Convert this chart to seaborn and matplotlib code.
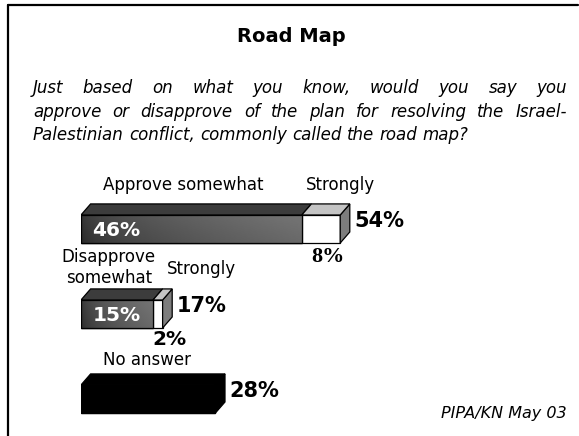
import numpy as np
import pandas as pd
import matplotlib
matplotlib.use("Agg")
import matplotlib.pyplot as plt
from matplotlib.patches import Polygon, Rectangle
from matplotlib.lines import Line2D
import seaborn as sns

# ---- data -------------------------------------------------------------
questions = ["Approve", "Disapprove", "No answer"]
base_values = [46, 15, 28]          # "somewhat" share (whole bar for No answer)
strong_values = [8, 2, 0]           # "strongly" share stacked on top
totals = [b + s for b, s in zip(base_values, strong_values)]
base_labels = ["Approve somewhat", "Disapprove\nsomewhat", "No answer"]
strong_labels = ["Strongly", "Strongly", ""]

title = "Road Map"
question_lines = [
    "Just based on what you know, would you say you",
    "approve or disapprove of the plan for resolving the Israel-",
    "Palestinian conflict, commonly called the road map?",
]
source = "PIPA/KN May 03"

# ---- style --------------------------------------------------------------
W, H = 579, 436
sns.set_theme(style="white")
plt.rcParams["font.family"] = ["DejaVu Sans"]
plt.rcParams["text.color"] = "black"

fig = plt.figure(figsize=(W / 100, H / 100), dpi=100)
ax = fig.add_axes([81 / W, 3 / H, 480 / W, 323 / H])

BAR_H = 0.33       # bar thickness (category units)
DX, DY = 2.0, 0.13  # 3-D depth offsets (x in %, y in category units)

df = pd.DataFrame({"question": questions, "total": totals, "base": base_values})

# full bars: white "strongly" part shows to the right of the base
sns.barplot(data=df, x="total", y="question", hue="question", order=questions,
            palette=["white", "white", "black"], orient="h", width=BAR_H,
            edgecolor="black", linewidth=0.9, legend=False, ax=ax)
n_total = len(ax.patches)
# base ("somewhat") bars drawn over them
sns.barplot(data=df, x="base", y="question", hue="question", order=questions,
            palette=["#555555", "#555555", "black"], orient="h", width=BAR_H,
            edgecolor="black", linewidth=0.9, legend=False, ax=ax)

ax.set_xlim(0, 100)
ax.set_ylim(2.4, -1.4)
ax.axis("off")

base_patches = sorted(ax.patches[n_total:],
                      key=lambda p: p.get_y() + p.get_height() / 2)

# shaded gradient on the dark "somewhat" faces
gx = np.linspace(0, 1, 200)
gy = np.linspace(0, 1, 40)
GX, GY = np.meshgrid(gx, gy)
grad = 0.20 + 0.26 * np.sqrt(GX) - 0.05 * GY
for i, p in enumerate(base_patches):
    if strong_values[i] == 0:
        continue
    x0, y0 = p.get_x(), p.get_y()
    w, h = p.get_width(), p.get_height()
    im = ax.imshow(grad, cmap="gray", vmin=0, vmax=1, aspect="auto",
                   extent=[x0, x0 + w, y0 + h, y0], interpolation="bilinear",
                   zorder=p.get_zorder() + 0.1)
    im.set_clip_path(p)
    ax.add_patch(Rectangle((x0, y0), w, h, fill=False, edgecolor="black",
                           linewidth=0.9, zorder=p.get_zorder() + 0.2))
ax.set_xlim(0, 100)
ax.set_ylim(2.4, -1.4)

# 3-D top and side faces, plus value labels
for i, p in enumerate(base_patches):
    top = p.get_y()
    bot = top + p.get_height()
    b, t = base_values[i], totals[i]
    dark = strong_values[i] == 0
    faces = [
        ([(0, top), (DX, top - DY), (b + DX, top - DY), (b, top)],
         "black" if dark else "#3c3c3c"),
        ([(t, top), (t + DX, top - DY), (t + DX, bot - DY), (t, bot)],
         "black" if dark else "#7d7d7d"),
    ]
    if not dark:
        faces.append(([(b, top), (b + DX, top - DY), (t + DX, top - DY), (t, top)],
                      "#c4c4c4"))
    for pts, col in faces:
        ax.add_patch(Polygon(pts, closed=True, facecolor=col, edgecolor="black",
                             linewidth=0.9, zorder=3))

    # total label beside the bar
    ax.text(t + DX + 1.0, i - 0.09, f"{t}%", ha="left", va="center",
            fontsize=15, fontweight="bold", color="black")
    if not dark:
        # base value inside the bar
        ax.text(2.4, i + 0.02, f"{b}%", ha="left", va="center", fontsize=14.5,
                fontweight="bold", color="white", zorder=5)
        # strongly value under its segment
        s = strong_values[i]
        if i == 0:
            ax.text(b + s / 2 + DX / 2 + 0.5, bot + 0.17, f"{s}%", ha="center",
                    va="center", fontsize=16, fontweight="bold",
                    family=["Liberation Serif"], color="black")
        else:
            ax.text(b + s / 2 + DX / 2 + 1.5, bot + 0.13, f"{s}%", ha="center",
                    va="center", fontsize=14.5, fontweight="bold",
                    color="black")

# category labels
LBL = 12
ax.text(base_values[0] / 2 - 1.8, -0.52, base_labels[0], ha="center",
        va="center", fontsize=LBL)
ax.text(totals[0], -0.52, strong_labels[0], ha="center", va="center",
        fontsize=LBL)
ax.text(5.8, 0.45, base_labels[1], ha="center", va="center", fontsize=LBL,
        multialignment="center", linespacing=1.2)
ax.text(totals[1] + 8, 0.47, strong_labels[1], ha="center", va="center",
        fontsize=LBL)
ax.text(13.8, 1.54, base_labels[2], ha="center", va="center", fontsize=LBL)

# ---- title, question, source, frame -----------------------------------
fig.text(291 / W, 1 - 42 / H, title, ha="center", va="baseline",
         fontsize=14, fontweight="bold")

renderer = fig.canvas.get_renderer()
x_left, x_right = 33, 567
baselines = [93, 117, 140]
QS = 12
for k, (line, yb) in enumerate(zip(question_lines, baselines)):
    words = line.split(" ")
    txts = [fig.text(0, 1 - yb / H, w_, ha="left", va="baseline",
                     fontsize=QS, fontstyle="italic") for w_ in words]
    widths = [t_.get_window_extent(renderer).width for t_ in txts]
    if k < len(question_lines) - 1:
        gap = (x_right - x_left - sum(widths)) / (len(words) - 1)
    else:
        sp = fig.text(0, 0, "a a", fontsize=QS, fontstyle="italic")
        sp2 = fig.text(0, 0, "aa", fontsize=QS, fontstyle="italic")
        gap = (sp.get_window_extent(renderer).width
               - sp2.get_window_extent(renderer).width)
        sp.remove()
        sp2.remove()
    x = x_left
    for t_, w_ in zip(txts, widths):
        t_.set_x(x / W)
        x += w_ + gap

fig.text(567 / W, 1 - 418 / H, source, ha="right", va="baseline",
         fontsize=11.5, fontstyle="italic")

fig.add_artist(Line2D([8 / W, 578 / W], [1 - 5 / H, 1 - 5 / H],
                      color="black", linewidth=1.6))
fig.add_artist(Line2D([8 / W, 8 / W], [1 - 5 / H, 0], color="black",
                      linewidth=1.6))

fig.savefig("out.png", dpi=100)
